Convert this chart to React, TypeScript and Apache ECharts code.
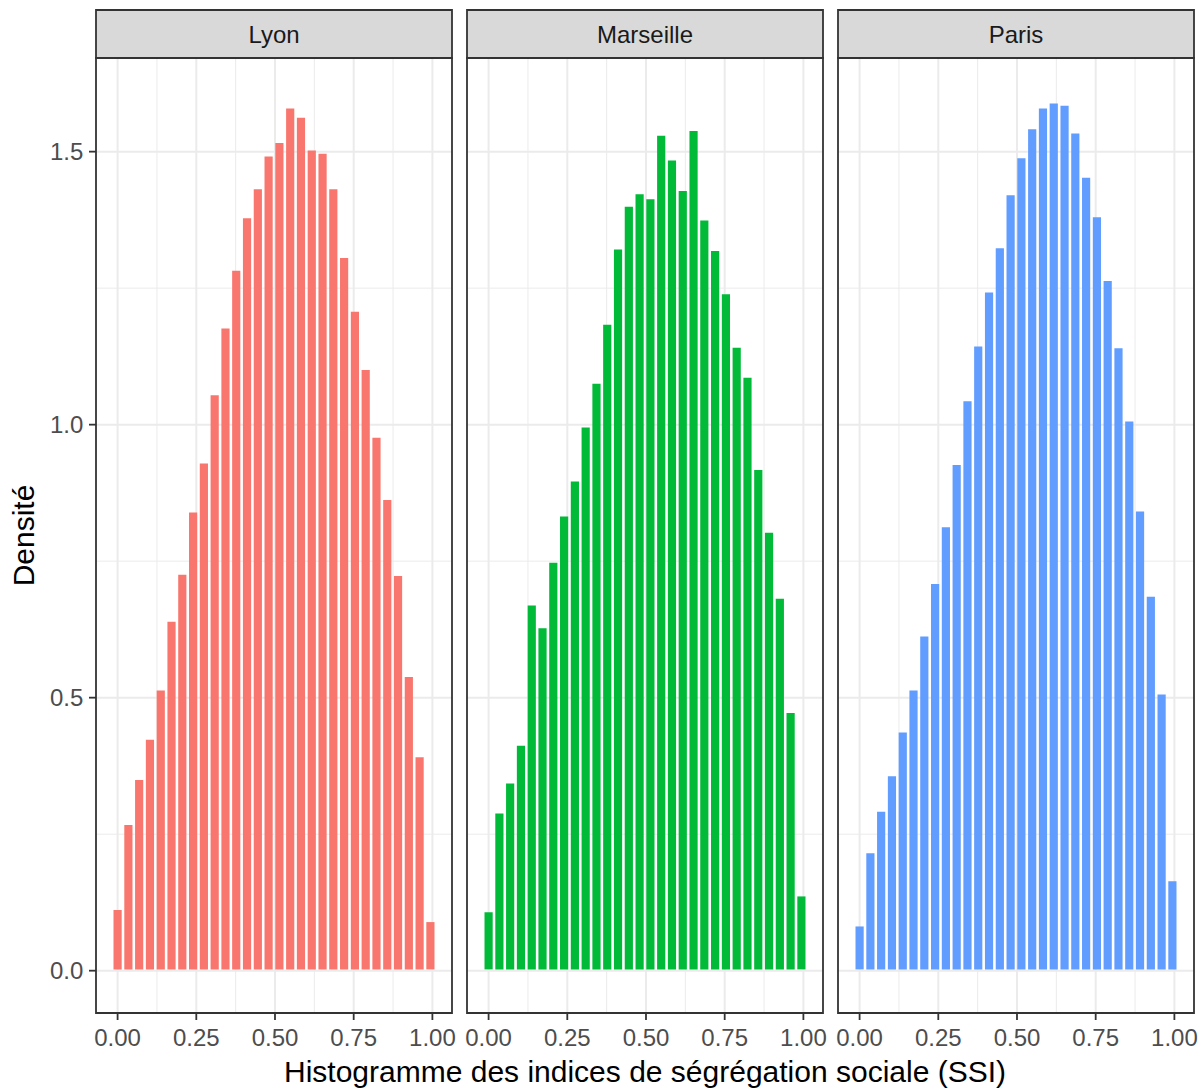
import React, { useEffect, useRef } from "react";
import * as echarts from "echarts";

// ---------- data ----------
const cities = ["Lyon", "Marseille", "Paris"];
const cityColors = ["#F8766D", "#00BA38", "#619CFF"];

const binWidth = 0.03427;
const binCenters = [
  0.0, 0.0343, 0.0685, 0.1028, 0.1371, 0.1713, 0.2056, 0.2399, 0.2741, 0.3084,
  0.3427, 0.3769, 0.4112, 0.4455, 0.4797, 0.514, 0.5483, 0.5825, 0.6168, 0.6511,
  0.6853, 0.7196, 0.7539, 0.7881, 0.8224, 0.8567, 0.8909, 0.9252, 0.9594, 0.9937,
];

const lyonDensity = [
  0.111, 0.267, 0.349, 0.423, 0.513, 0.639, 0.725, 0.839, 0.929, 1.054,
  1.176, 1.282, 1.378, 1.431, 1.491, 1.516, 1.579, 1.562, 1.502, 1.496,
  1.431, 1.305, 1.207, 1.1, 0.976, 0.862, 0.723, 0.538, 0.391, 0.089,
];
const marseilleDensity = [
  0.107, 0.288, 0.343, 0.412, 0.669, 0.627, 0.747, 0.832, 0.896, 0.995,
  1.075, 1.183, 1.321, 1.399, 1.422, 1.413, 1.529, 1.484, 1.428, 1.538,
  1.374, 1.318, 1.239, 1.141, 1.086, 0.917, 0.802, 0.681, 0.472, 0.136,
];
const parisDensity = [
  0.081, 0.215, 0.291, 0.356, 0.436, 0.513, 0.612, 0.708, 0.812, 0.926,
  1.043, 1.143, 1.242, 1.323, 1.42, 1.488, 1.541, 1.579, 1.588, 1.584,
  1.533, 1.452, 1.38, 1.263, 1.14, 1.006, 0.841, 0.685, 0.506, 0.164,
];
const densities = [lyonDensity, marseilleDensity, parisDensity];

const xTicks = [0, 0.25, 0.5, 0.75, 1];
const xTickLabels = ["0.00", "0.25", "0.50", "0.75", "1.00"];
const xMinorBreaks = [0.125, 0.375, 0.625, 0.875];
const yTicks = [0, 0.5, 1, 1.5];
const yTickLabels = ["0.0", "0.5", "1.0", "1.5"];
const yMinorBreaks = [0.25, 0.75, 1.25];
const xLimits = [-0.0686, 1.0623];
const yLimits = [-0.0775, 1.6715];

const xTitle = "Histogramme des indices de ségrégation sociale (SSI)";
const yTitle = "Densité";

// ---------- layout / style ----------
const FONT = '"Liberation Sans", Arial, Helvetica, sans-serif';
const panelLefts = [96, 467, 838];
const panelWidth = 356;
const panelTop = 58;
const panelHeight = 955;
const stripTop = 10;
const stripHeight = 48;
const tickLen = 7;
const tickGap = 5.6;
const barGapHalf = 1.3;
const borderColor = "#333333";
const tickFont = "24px " + FONT;
const titleFont = "30px " + FONT;

function buildOption() {
  const grid = panelLefts.map((l) => ({
    left: l,
    top: panelTop,
    width: panelWidth,
    height: panelHeight,
    show: true,
    backgroundColor: "#ffffff",
    borderWidth: 0,
  }));
  const xAxis = panelLefts.map((_, i) => ({
    type: "value",
    gridIndex: i,
    min: xLimits[0],
    max: xLimits[1],
    show: false,
  }));
  const yAxis = panelLefts.map((_, i) => ({
    type: "value",
    gridIndex: i,
    min: yLimits[0],
    max: yLimits[1],
    show: false,
  }));

  const series: any[] = [];
  cities.forEach((city, i) => {
    // grid lines: kind 0 x-major, 1 x-minor, 2 y-major, 3 y-minor
    const gridData = [
      ...xMinorBreaks.map((v) => [v, 1]),
      ...yMinorBreaks.map((v) => [v, 3]),
      ...xTicks.map((v) => [v, 0]),
      ...yTicks.map((v) => [v, 2]),
    ];
    series.push({
      type: "custom",
      name: "grid-" + city,
      xAxisIndex: i,
      yAxisIndex: i,
      silent: true,
      z: 1,
      data: gridData,
      renderItem: (params: any, api: any) => {
        const v = api.value(0);
        const kind = api.value(1);
        let p1, p2;
        if (kind < 2) {
          p1 = api.coord([v, yLimits[0]]);
          p2 = api.coord([v, yLimits[1]]);
        } else {
          p1 = api.coord([xLimits[0], v]);
          p2 = api.coord([xLimits[1], v]);
        }
        const major = kind === 0 || kind === 2;
        return {
          type: "line",
          shape: { x1: p1[0], y1: p1[1], x2: p2[0], y2: p2[1] },
          style: { stroke: "#EBEBEB", lineWidth: major ? 2 : 1 },
        };
      },
    });
    // histogram bars (white outline emulated by a small inset)
    series.push({
      type: "custom",
      name: city,
      xAxisIndex: i,
      yAxisIndex: i,
      silent: true,
      z: 2,
      data: binCenters.map((c, k) => [c, densities[i][k]]),
      renderItem: (params: any, api: any) => {
        const c = api.value(0);
        const d = api.value(1);
        const tl = api.coord([c - binWidth / 2, d]);
        const br = api.coord([c + binWidth / 2, 0]);
        return {
          type: "rect",
          shape: {
            x: tl[0] + barGapHalf,
            y: tl[1],
            width: br[0] - tl[0] - 2 * barGapHalf,
            height: br[1] - tl[1] - barGapHalf,
          },
          style: { fill: cityColors[i] },
        };
      },
    });
    // x ticks + labels
    series.push({
      type: "custom",
      name: "xticks-" + city,
      xAxisIndex: i,
      yAxisIndex: i,
      silent: true,
      clip: false,
      z: 5,
      data: xTicks.map((v, j) => [v, j]),
      renderItem: (params: any, api: any) => {
        const v = api.value(0);
        const j = api.value(1);
        const p = api.coord([v, yLimits[0]]);
        return {
          type: "group",
          children: [
            {
              type: "line",
              shape: { x1: p[0], y1: p[1], x2: p[0], y2: p[1] + tickLen },
              style: { stroke: borderColor, lineWidth: 1.8 },
            },
            {
              type: "text",
              x: p[0],
              y: p[1] + tickLen + tickGap,
              style: {
                text: xTickLabels[j],
                fill: "#4D4D4D",
                font: tickFont,
                align: "center",
                verticalAlign: "top",
                textAlign: "center",
                textVerticalAlign: "top",
              },
            },
          ],
        };
      },
    });
    if (i === 0) {
      series.push({
        type: "custom",
        name: "yticks",
        xAxisIndex: i,
        yAxisIndex: i,
        silent: true,
        clip: false,
        z: 5,
        data: yTicks.map((v, j) => [j, v]),
        renderItem: (params: any, api: any) => {
          const j = api.value(0);
          const v = api.value(1);
          const p = api.coord([xLimits[0], v]);
          return {
            type: "group",
            children: [
              {
                type: "line",
                shape: { x1: p[0] - tickLen, y1: p[1], x2: p[0], y2: p[1] },
                style: { stroke: borderColor, lineWidth: 1.8 },
              },
              {
                type: "text",
                x: p[0] - tickLen - tickGap,
                y: p[1],
                style: {
                  text: yTickLabels[j],
                  fill: "#4D4D4D",
                  font: tickFont,
                  align: "right",
                  verticalAlign: "middle",
                  textAlign: "right",
                  textVerticalAlign: "middle",
                },
              },
            ],
          };
        },
      });
    }
  });

  const graphic: any[] = [];
  panelLefts.forEach((l, i) => {
    graphic.push({
      type: "rect",
      z: 100,
      shape: { x: l, y: stripTop, width: panelWidth, height: stripHeight },
      style: { fill: "#D9D9D9", stroke: borderColor, lineWidth: 1.8 },
    });
    graphic.push({
      type: "text",
      z: 101,
      x: l + panelWidth / 2,
      y: stripTop + stripHeight / 2,
      style: {
        text: cities[i],
        fill: "#1A1A1A",
        font: tickFont,
        align: "center",
        verticalAlign: "middle",
        textAlign: "center",
        textVerticalAlign: "middle",
      },
    });
    graphic.push({
      type: "rect",
      z: 100,
      shape: { x: l, y: panelTop, width: panelWidth, height: panelHeight },
      style: { fill: "rgba(0,0,0,0)", stroke: borderColor, lineWidth: 1.8 },
    });
  });
  graphic.push({
    type: "text",
    z: 101,
    x: (panelLefts[0] + panelLefts[2] + panelWidth) / 2,
    y: 1071,
    style: {
      text: xTitle,
      fill: "#000000",
      font: titleFont,
      align: "center",
      verticalAlign: "middle",
      textAlign: "center",
      textVerticalAlign: "middle",
    },
  });
  graphic.push({
    type: "text",
    z: 101,
    x: 23,
    y: panelTop + panelHeight / 2,
    rotation: Math.PI / 2,
    style: {
      text: yTitle,
      fill: "#000000",
      font: titleFont,
      align: "center",
      verticalAlign: "middle",
      textAlign: "center",
      textVerticalAlign: "middle",
    },
  });

  return {
    animation: false,
    backgroundColor: "#ffffff",
    grid,
    xAxis,
    yAxis,
    series,
    graphic,
  };
}

export default function App() {
  const ref = useRef<HTMLDivElement>(null);
  useEffect(() => {
    if (!ref.current) return;
    const chart = echarts.init(ref.current, undefined, { renderer: "svg" });
    chart.setOption(buildOption() as any);
    return () => chart.dispose();
  }, []);
  return (
    <div
      ref={ref}
      style={{ position: "fixed", left: 0, top: 0, width: 1203, height: 1089 }}
    />
  );
}
